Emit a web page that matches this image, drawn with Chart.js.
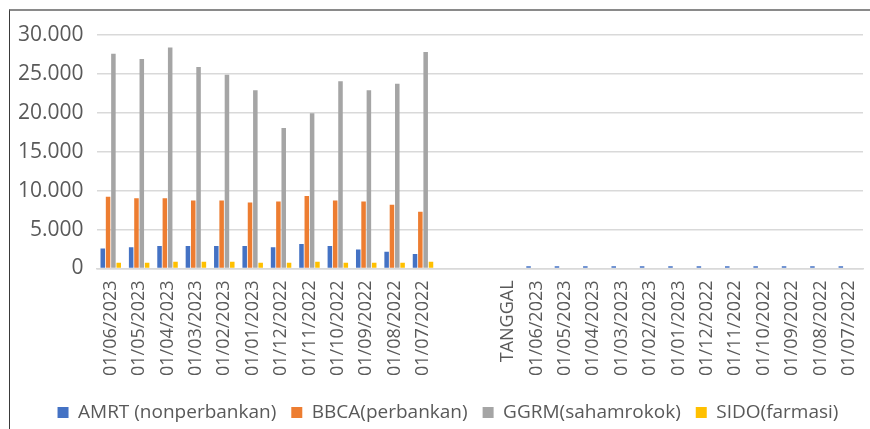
<!DOCTYPE html>
<html>
<head>
<meta charset="utf-8">
<title>Harga saham</title>
<script src="https://cdn.jsdelivr.net/npm/chart.js@4.4.0/dist/chart.umd.min.js"></script>
<style>
    body { margin: 0; background: #fff; }
    #wrap { position: relative; width: 870px; height: 429px; overflow: hidden; }
    #frame {
        position: absolute; left: 9px; top: 9px; width: 900px; height: 440px;
        border-top: 2px solid #8a8a8a; border-left: 1px solid #3a3a3a;
        pointer-events: none;
    }
</style>
</head>
<body>
<div id="wrap">
    <canvas id="dvCanvas" width="870" height="429"></canvas>
    <div id="frame"></div>
</div>
<script>
    //categories (two blank columns, then the header row and the dates again)
    var dates = ['01/06/2023', '01/05/2023', '01/04/2023', '01/03/2023', '01/02/2023', '01/01/2023',
        '01/12/2022', '01/11/2022', '01/10/2022', '01/09/2022', '01/08/2022', '01/07/2022'];
    var labels = dates.concat(['', '', 'TANGGAL'], dates);

    //series values, left block
    var amrt = [2580, 2710, 2880, 2880, 2880, 2880, 2710, 3140, 2880, 2450, 2150, 1850];
    var bbca = [9200, 9025, 9025, 8725, 8725, 8475, 8600, 9325, 8725, 8600, 8175, 7300];
    var ggrm = [27600, 26900, 28400, 25900, 24900, 22900, 18050, 19950, 24050, 22900, 23750, 27800];
    var sido = [730, 730, 860, 860, 860, 730, 730, 860, 730, 730, 730, 860];

    //right block: only tiny AMRT marks are visible
    var amrtRight = [300, 300, 300, 300, 300, 300, 300, 300, 300, 300, 300, 300];

    var yTicks = [0, 5000, 10000, 15000, 20000, 25000, 30000];

    var blank = [null, null, null];
    var none = dates.map(function () { return null; });

    function fmt(v) {
        return String(v).replace(/\B(?=(\d{3})+(?!\d))/g, '.');
    }

    //the original legend is centred on the whole (cropped) excel chart, a bit right of ours
    var legendShift = {
        id: 'legendShift',
        afterLayout: function (chart) {
            chart.legend.left += 14;
            chart.legend.right += 14;
        }
    };

    var ctx = document.getElementById("dvCanvas").getContext('2d');
    var myChart = new Chart(ctx, {
        type: 'bar',
        data: {
            labels: labels,
            datasets: [{
                label: 'AMRT (nonperbankan)',
                data: amrt.concat(blank, amrtRight),
                backgroundColor: '#4472C4'
            }, {
                label: 'BBCA(perbankan)',
                data: bbca.concat(blank, none),
                backgroundColor: '#ED7D31'
            }, {
                label: 'GGRM(sahamrokok)',
                data: ggrm.concat(blank, none),
                backgroundColor: '#A5A5A5'
            }, {
                label: 'SIDO(farmasi)',
                data: sido.concat(blank, none),
                backgroundColor: '#FFC000'
            }]
        },
        plugins: [legendShift],
        options: {
            responsive: false,
            animation: false,
            layout: { padding: { left: 5, right: 7, top: 35, bottom: -3 } },
            datasets: {
                bar: { categoryPercentage: 0.75, barPercentage: 0.85 }
            },
            scales: {
                x: {
                    //no extra room for the rotated end labels
                    afterFit: function (scale) {
                        scale.paddingLeft = 0;
                        scale.paddingRight = 0;
                    },
                    grid: { display: false, drawTicks: false },
                    border: { color: '#d9d9d9', width: 1.5 },
                    ticks: {
                        autoSkip: false,
                        minRotation: 90,
                        maxRotation: 90,
                        padding: 12,
                        color: '#595959',
                        font: { family: 'Open Sans', size: 18 }
                    }
                },
                y: {
                    min: 0,
                    max: 30000,
                    afterBuildTicks: function (axis) {
                        axis.ticks = yTicks.map(function (v) { return { value: v }; });
                    },
                    grid: { color: '#d9d9d9', lineWidth: 1.5, drawTicks: false },
                    border: { display: false },
                    ticks: {
                        padding: 13,
                        color: '#595959',
                        font: { family: 'Open Sans', size: 21 },
                        callback: function (v) { return fmt(v); }
                    }
                }
            },
            plugins: {
                legend: {
                    position: 'bottom',
                    labels: {
                        boxWidth: 11,
                        boxHeight: 11,
                        padding: 15,
                        color: '#595959',
                        font: { family: 'Open Sans', size: 19 }
                    }
                },
                tooltip: { enabled: false }
            }
        }
    });
</script>
</body>
</html>
